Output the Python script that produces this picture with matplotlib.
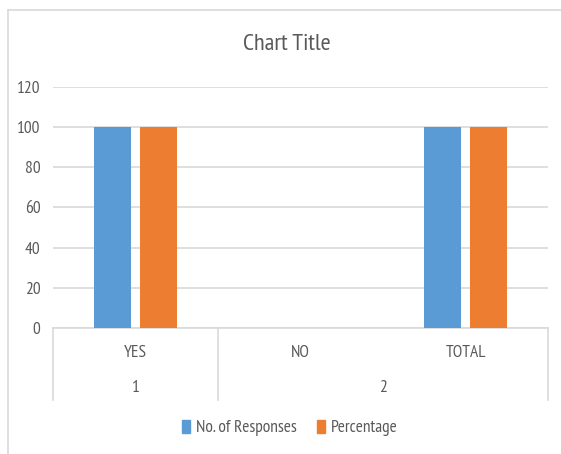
import matplotlib
matplotlib.use("Agg")
import matplotlib.pyplot as plt
from matplotlib.patches import Patch
from matplotlib.lines import Line2D
import matplotlib.transforms as mtransforms
import numpy as np

categories = ["YES", "NO", "TOTAL"]
groups = ["1", "2"]
group_spans = [(0, 0), (1, 2)]
series_names = ["No. of Responses", "Percentage"]
responses = [100, 0, 100]
percentage = [100, 0, 100]
yticks = [0, 20, 40, 60, 80, 100, 120]

FONT = ["PT Sans Narrow", "DejaVu Sans"]
plt.rcParams["font.family"] = FONT
TXT = "#595959"
GRID = "#d9d9d9"
BLUE = "#5B9BD5"
ORANGE = "#ED7D31"

W, H = 561, 454
fig = plt.figure(figsize=(W / 100, H / 100), dpi=100)

# chart border
fig.add_artist(Line2D([8 / W, 1], [1 - 10 / H, 1 - 10 / H], color=GRID, lw=1.2, transform=fig.transFigure))
fig.add_artist(Line2D([8 / W, 8 / W], [0, 1 - 10 / H], color=GRID, lw=1.2, transform=fig.transFigure))

x0, x1 = 53, 548
ytop, ybot = 87, 328
ax = fig.add_axes([x0 / W, 1 - ybot / H, (x1 - x0) / W, (ybot - ytop) / H])
axh = ybot - ytop

x = np.arange(len(categories))
bw = 0.224
gap = 0.06
ax.bar(x - (bw + gap) / 2, responses, bw, color=BLUE, zorder=3)
ax.bar(x + (bw + gap) / 2, percentage, bw, color=ORANGE, zorder=3)

ax.set_xlim(-0.5, len(categories) - 0.5)
ax.set_ylim(0, 120)
ax.set_yticks(yticks)
ax.set_yticklabels([str(v) for v in yticks])
ax.set_xticks([])
ax.grid(axis="y", color=GRID, lw=1.2, zorder=0)
for s in ["top", "right", "left"]:
    ax.spines[s].set_visible(False)
ax.spines["bottom"].set_color(GRID)
ax.spines["bottom"].set_linewidth(1.2)
ax.tick_params(axis="y", length=0, pad=9, labelsize=12.5, labelcolor=TXT)

trans = mtransforms.blended_transform_factory(ax.transData, ax.transAxes)
sep_bottom = -(400 - ybot) / axh
# separators
for xs in [-0.5, 0.5, 2.5]:
    ax.add_line(Line2D([xs, xs], [0, sep_bottom], color=GRID, lw=1.2, transform=trans, clip_on=False))

for i, c in enumerate(categories):
    ax.text(i, -(353 - ybot) / axh, c, transform=trans, ha="center", va="center",
            fontsize=12.5, color=TXT)
for g, (a, b) in zip(groups, group_spans):
    ax.text((a + b) / 2, -(388 - ybot) / axh, g, transform=trans, ha="center", va="center",
            fontsize=12.5, color=TXT)

fig.text(287 / W, 1 - 45 / H, "Chart Title", ha="center", va="center", fontsize=17.5, color=TXT)

handles = [Patch(color=BLUE, label=series_names[0]), Patch(color=ORANGE, label=series_names[1])]
fig.legend(handles=handles, loc="center", bbox_to_anchor=(290 / W, 1 - 428 / H), ncol=2,
           frameon=False, handlelength=0.45, handleheight=0.8, handletextpad=0.35,
           columnspacing=1.2, fontsize=12.5, labelcolor=TXT)

fig.savefig("out.png", dpi=100)
